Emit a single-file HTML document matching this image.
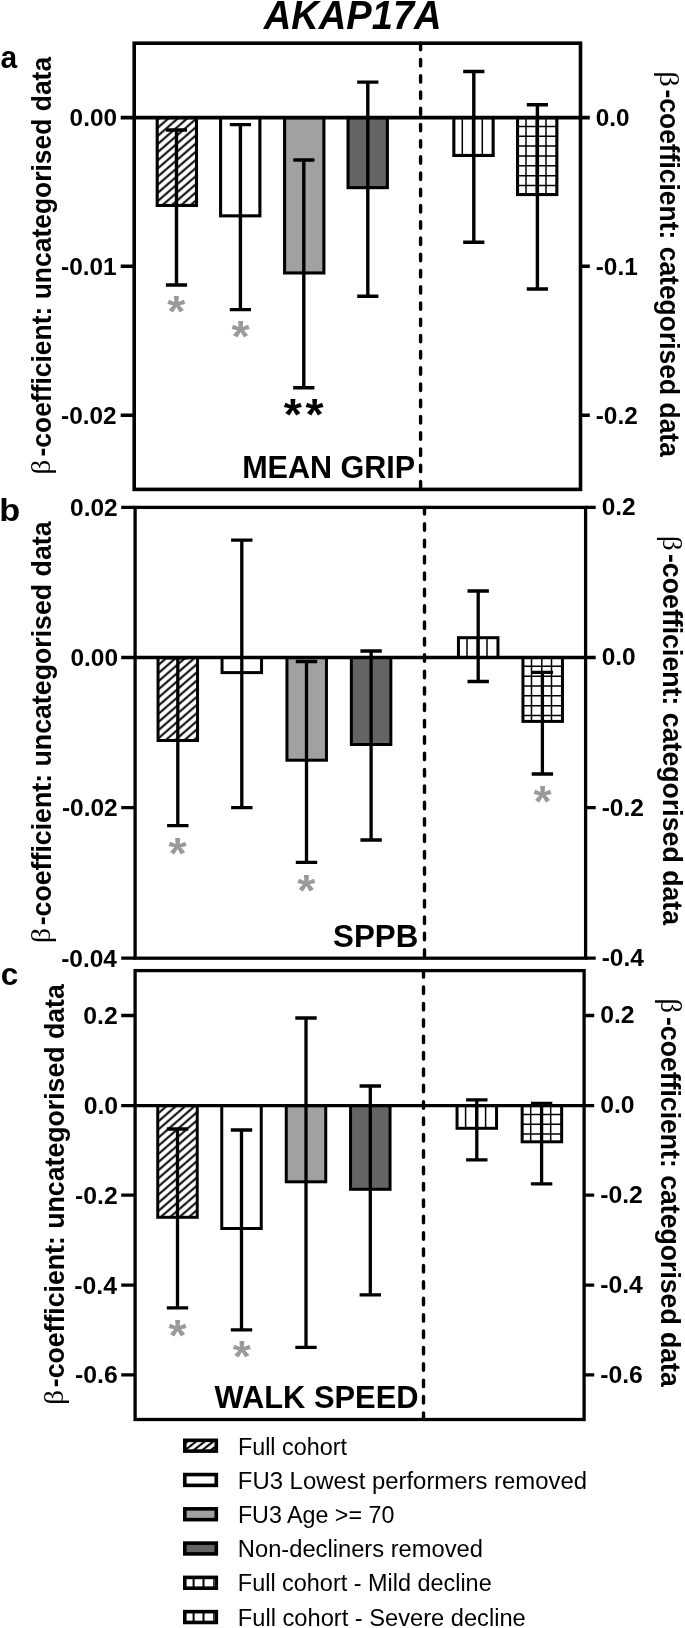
<!DOCTYPE html>
<html lang="en"><head><meta charset="utf-8"><title>AKAP17A</title>
<style>html,body{margin:0;padding:0;background:#fff}svg{display:block;will-change:transform}</style></head><body>
<svg width="685" height="1628" viewBox="0 0 685 1628">
<defs><pattern id="hatch" patternUnits="userSpaceOnUse" width="6.15" height="6.15" patternTransform="rotate(-41)"><rect width="6.15" height="6.15" fill="#fff"/><line x1="0" y1="3.1" x2="6.15" y2="3.1" stroke="#000" stroke-width="2"/></pattern><pattern id="hatch2" patternUnits="userSpaceOnUse" width="5.3" height="5.3" patternTransform="translate(186 0) rotate(-38)"><rect width="5.3" height="5.3" fill="#fff"/><line x1="0" y1="2.65" x2="5.3" y2="2.65" stroke="#000" stroke-width="2.1"/></pattern></defs>
<rect width="685" height="1628" fill="#fff"/>
<text transform="translate(263.79 28.5) scale(0.9431 1)" font-family="'Liberation Sans', Arial, Helvetica, sans-serif" font-size="40.39" font-weight="bold" font-style="italic">AKAP17A</text>
<rect x="157.2" y="117.6" width="39.3" height="87.85" fill="url(#hatch)" stroke="#000" stroke-width="3.1"/>
<rect x="220.6" y="117.6" width="39.3" height="98.25" fill="#fff" stroke="#000" stroke-width="3.1"/>
<rect x="284.6" y="117.6" width="39.3" height="155.35" fill="#a1a1a1" stroke="#000" stroke-width="3.1"/>
<rect x="348.05" y="117.6" width="39.3" height="70.05" fill="#646464" stroke="#000" stroke-width="3.1"/>
<rect x="453.85" y="117.6" width="39.3" height="37.85" fill="#fff" stroke="#000" stroke-width="3.1"/>
<path d="M462.3 117.6V155.45M472.6 117.6V155.45M482.3 117.6V155.45" fill="none" stroke="#000" stroke-width="1.5"/>
<rect x="517.55" y="117.6" width="39.3" height="76.95" fill="#fff" stroke="#000" stroke-width="3.1"/>
<path d="M526 117.6V194.55M536.3 117.6V194.55M546 117.6V194.55M517.55 126.4H556.85M517.55 136.25H556.85M517.55 146.1H556.85M517.55 155.95H556.85M517.55 165.8H556.85M517.55 175.65H556.85M517.55 185.5H556.85" fill="none" stroke="#000" stroke-width="1.5"/>
<rect x="134.2" y="43.2" width="446.3" height="446.2" fill="none" stroke="#000" stroke-width="3.6"/>
<line x1="420.6" y1="43.2" x2="420.6" y2="489.4" stroke="#000" stroke-width="3.4" stroke-linecap="round" stroke-dasharray="6.49 9.74"/>
<line x1="134.2" y1="117.6" x2="580.5" y2="117.6" stroke="#000" stroke-width="3.6"/>
<path d="M120.7 117.6H134.2M580.5 117.6H589.8M120.7 266.3H134.2M580.5 266.3H589.8M120.7 415.2H134.2M580.5 415.2H589.8" fill="none" stroke="#000" stroke-width="3.6"/>
<text transform="translate(69.6 125.97) scale(1.0000 1)" font-family="'Liberation Sans', Arial, Helvetica, sans-serif" font-size="24.35" font-weight="bold">0.00</text>
<text transform="translate(595.74 125.97) scale(1.0000 1)" font-family="'Liberation Sans', Arial, Helvetica, sans-serif" font-size="24.35" font-weight="bold">0.0</text>
<text transform="translate(61.11 274.67) scale(1.0000 1)" font-family="'Liberation Sans', Arial, Helvetica, sans-serif" font-size="24.35" font-weight="bold">-0.01</text>
<text transform="translate(595.74 274.67) scale(1.0000 1)" font-family="'Liberation Sans', Arial, Helvetica, sans-serif" font-size="24.35" font-weight="bold">-0.1</text>
<text transform="translate(61.11 423.57) scale(1.0000 1)" font-family="'Liberation Sans', Arial, Helvetica, sans-serif" font-size="24.35" font-weight="bold">-0.02</text>
<text transform="translate(595.74 423.57) scale(1.0000 1)" font-family="'Liberation Sans', Arial, Helvetica, sans-serif" font-size="24.35" font-weight="bold">-0.2</text>
<path d="M176.5 130V285M165.9 130H187.1M165.9 285H187.1" fill="none" stroke="#000" stroke-width="3.4"/>
<path d="M240.4 124.6V309.6M229.8 124.6H251M229.8 309.6H251" fill="none" stroke="#000" stroke-width="3.4"/>
<path d="M303.8 160V387.7M293.2 160H314.4M293.2 387.7H314.4" fill="none" stroke="#000" stroke-width="3.4"/>
<path d="M367.8 82.1V296.3M357.2 82.1H378.4M357.2 296.3H378.4" fill="none" stroke="#000" stroke-width="3.4"/>
<path d="M473.8 71.5V242.3M463.2 71.5H484.4M463.2 242.3H484.4" fill="none" stroke="#000" stroke-width="3.4"/>
<path d="M537.4 104.7V289M526.8 104.7H548M526.8 289H548" fill="none" stroke="#000" stroke-width="3.4"/>
<text transform="translate(167.2 327.13) scale(1.0643 1)" font-family="'Liberation Sans', Arial, Helvetica, sans-serif" font-size="43.78" font-weight="bold" fill="#9a9a9a">*</text>
<text transform="translate(231.4 351.63) scale(1.0643 1)" font-family="'Liberation Sans', Arial, Helvetica, sans-serif" font-size="43.78" font-weight="bold" fill="#9a9a9a">*</text>
<text transform="translate(283.75 429.63) scale(1.0643 1)" font-family="'Liberation Sans', Arial, Helvetica, sans-serif" font-size="43.78" font-weight="bold">*</text>
<text transform="translate(305.45 429.63) scale(1.0643 1)" font-family="'Liberation Sans', Arial, Helvetica, sans-serif" font-size="43.78" font-weight="bold">*</text>
<text transform="translate(51 456.53) scale(1.0348 1) rotate(-90)" font-family="'Liberation Sans', Arial, Helvetica, sans-serif" font-size="26.45" font-weight="bold">-coefficient: uncategorised data</text>
<text transform="translate(49.9 474.62) scale(0.9438 1) rotate(-90)" font-family="'Liberation Serif', 'DejaVu Serif', serif" font-size="29.05" font-weight="normal">β</text>
<text transform="translate(659.6 89.47) scale(1.0345 1) rotate(90)" font-family="'Liberation Sans', Arial, Helvetica, sans-serif" font-size="26.46" font-weight="bold">-coefficient: categorised data</text>
<text transform="translate(660.16 71.19) scale(0.9226 1) rotate(90)" font-family="'Liberation Serif', 'DejaVu Serif', serif" font-size="30.52" font-weight="normal">β</text>
<text transform="translate(0.53 68.3) scale(0.9320 1)" font-family="'Liberation Sans', Arial, Helvetica, sans-serif" font-size="32.18" font-weight="bold">a</text>
<text transform="translate(242.14 478.41) scale(0.9755 1)" font-family="'Liberation Sans', Arial, Helvetica, sans-serif" font-size="31.3" font-weight="bold">MEAN GRIP</text>
<rect x="158.05" y="657.5" width="39.5" height="83" fill="url(#hatch)" stroke="#000" stroke-width="3"/>
<rect x="222.05" y="657.5" width="39.5" height="15.1" fill="#fff" stroke="#000" stroke-width="3"/>
<rect x="286.95" y="657.5" width="39.5" height="102.7" fill="#a1a1a1" stroke="#000" stroke-width="3"/>
<rect x="351.35" y="657.5" width="39.5" height="87" fill="#646464" stroke="#000" stroke-width="3"/>
<rect x="458.45" y="637.7" width="39.5" height="19.8" fill="#fff" stroke="#000" stroke-width="3"/>
<path d="M467 637.7V657.5M477.3 637.7V657.5M487 637.7V657.5" fill="none" stroke="#000" stroke-width="1.5"/>
<rect x="522.95" y="657.5" width="39.5" height="63.9" fill="#fff" stroke="#000" stroke-width="3"/>
<path d="M531.5 657.5V721.4M541.8 657.5V721.4M551.5 657.5V721.4M522.95 666.3H562.45M522.95 676.15H562.45M522.95 686H562.45M522.95 695.85H562.45M522.95 705.7H562.45M522.95 715.55H562.45" fill="none" stroke="#000" stroke-width="1.5"/>
<rect x="135.1" y="507.4" width="450.5" height="450.8" fill="none" stroke="#000" stroke-width="3.3"/>
<line x1="424.5" y1="507.4" x2="424.5" y2="958.2" stroke="#000" stroke-width="3.4" stroke-linecap="round" stroke-dasharray="6.55 9.83"/>
<line x1="135.1" y1="657.5" x2="585.6" y2="657.5" stroke="#000" stroke-width="3.3"/>
<path d="M121.2 507.4H135.1M585.6 507.4H595.7M121.2 657.5H135.1M585.6 657.5H595.7M121.2 807.6H135.1M585.6 807.6H595.7M121.2 958.2H135.1M585.6 958.2H595.7" fill="none" stroke="#000" stroke-width="3.3"/>
<text transform="translate(70.05 516.02) scale(1.0000 1)" font-family="'Liberation Sans', Arial, Helvetica, sans-serif" font-size="24.49" font-weight="bold">0.02</text>
<text transform="translate(601.63 515.32) scale(1.0000 1)" font-family="'Liberation Sans', Arial, Helvetica, sans-serif" font-size="24.49" font-weight="bold">0.2</text>
<text transform="translate(70.43 666.12) scale(1.0000 1)" font-family="'Liberation Sans', Arial, Helvetica, sans-serif" font-size="24.49" font-weight="bold">0.00</text>
<text transform="translate(601.63 665.42) scale(1.0000 1)" font-family="'Liberation Sans', Arial, Helvetica, sans-serif" font-size="24.49" font-weight="bold">0.0</text>
<text transform="translate(61.9 816.22) scale(1.0000 1)" font-family="'Liberation Sans', Arial, Helvetica, sans-serif" font-size="24.49" font-weight="bold">-0.02</text>
<text transform="translate(601.63 815.52) scale(1.0000 1)" font-family="'Liberation Sans', Arial, Helvetica, sans-serif" font-size="24.49" font-weight="bold">-0.2</text>
<text transform="translate(61.13 966.82) scale(1.0000 1)" font-family="'Liberation Sans', Arial, Helvetica, sans-serif" font-size="24.49" font-weight="bold">-0.04</text>
<text transform="translate(601.63 966.12) scale(1.0000 1)" font-family="'Liberation Sans', Arial, Helvetica, sans-serif" font-size="24.49" font-weight="bold">-0.4</text>
<path d="M177.8 657.8V825.7M167.1 657.8H188.5M167.1 825.7H188.5" fill="none" stroke="#000" stroke-width="3.3"/>
<path d="M241.8 540.2V807.6M231.1 540.2H252.5M231.1 807.6H252.5" fill="none" stroke="#000" stroke-width="3.3"/>
<path d="M306.5 661.5V862.3M295.8 661.5H317.2M295.8 862.3H317.2" fill="none" stroke="#000" stroke-width="3.3"/>
<path d="M371.1 651V840M360.4 651H381.8M360.4 840H381.8" fill="none" stroke="#000" stroke-width="3.3"/>
<path d="M478.2 591V681.5M467.5 591H488.9M467.5 681.5H488.9" fill="none" stroke="#000" stroke-width="3.3"/>
<path d="M542.4 672.4V774M531.7 672.4H553.1M531.7 774H553.1" fill="none" stroke="#000" stroke-width="3.3"/>
<text transform="translate(168.4 869.23) scale(1.0643 1)" font-family="'Liberation Sans', Arial, Helvetica, sans-serif" font-size="43.78" font-weight="bold" fill="#9a9a9a">*</text>
<text transform="translate(297.2 905.73) scale(1.0643 1)" font-family="'Liberation Sans', Arial, Helvetica, sans-serif" font-size="43.78" font-weight="bold" fill="#9a9a9a">*</text>
<text transform="translate(533.4 817.23) scale(1.0643 1)" font-family="'Liberation Sans', Arial, Helvetica, sans-serif" font-size="43.78" font-weight="bold" fill="#9a9a9a">*</text>
<text transform="translate(50.8 925.34) scale(1.0289 1) rotate(-90)" font-family="'Liberation Sans', Arial, Helvetica, sans-serif" font-size="26.73" font-weight="bold">-coefficient: uncategorised data</text>
<text transform="translate(49.93 943.29) scale(0.9160 1) rotate(-90)" font-family="'Liberation Serif', 'DejaVu Serif', serif" font-size="30.28" font-weight="normal">β</text>
<text transform="translate(662.6 553.96) scale(1.0292 1) rotate(90)" font-family="'Liberation Sans', Arial, Helvetica, sans-serif" font-size="26.72" font-weight="bold">-coefficient: categorised data</text>
<text transform="translate(663.14 535.65) scale(0.9353 1) rotate(90)" font-family="'Liberation Serif', 'DejaVu Serif', serif" font-size="29.54" font-weight="normal">β</text>
<text transform="translate(-0.65 521.3) scale(1.0772 1)" font-family="'Liberation Sans', Arial, Helvetica, sans-serif" font-size="31.87" font-weight="bold">b</text>
<text transform="translate(333.11 946.9) scale(0.9786 1)" font-family="'Liberation Sans', Arial, Helvetica, sans-serif" font-size="32" font-weight="bold">SPPB</text>
<rect x="157.75" y="1105.6" width="39.5" height="111.7" fill="url(#hatch)" stroke="#000" stroke-width="3"/>
<rect x="221.75" y="1105.6" width="39.5" height="122.9" fill="#fff" stroke="#000" stroke-width="3"/>
<rect x="286.25" y="1105.6" width="39.5" height="76.2" fill="#a1a1a1" stroke="#000" stroke-width="3"/>
<rect x="350.55" y="1105.6" width="39.5" height="83.7" fill="#646464" stroke="#000" stroke-width="3"/>
<rect x="457.05" y="1105.6" width="39.5" height="22.7" fill="#fff" stroke="#000" stroke-width="3"/>
<path d="M465.6 1105.6V1128.3M475.9 1105.6V1128.3M485.6 1105.6V1128.3" fill="none" stroke="#000" stroke-width="1.5"/>
<rect x="522.15" y="1105.6" width="39.5" height="36.2" fill="#fff" stroke="#000" stroke-width="3"/>
<path d="M530.7 1105.6V1141.8M541 1105.6V1141.8M550.7 1105.6V1141.8M522.15 1114.4H561.65M522.15 1124.25H561.65M522.15 1134.1H561.65" fill="none" stroke="#000" stroke-width="1.5"/>
<rect x="135.1" y="970.6" width="449" height="448.9" fill="none" stroke="#000" stroke-width="3.3"/>
<line x1="423.5" y1="970.6" x2="423.5" y2="1419.5" stroke="#000" stroke-width="3.4" stroke-linecap="round" stroke-dasharray="6.55 9.83"/>
<line x1="135.1" y1="1105.6" x2="584.1" y2="1105.6" stroke="#000" stroke-width="3.3"/>
<path d="M121.2 1015.5H135.1M584.1 1015.5H594.2M121.2 1105.6H135.1M584.1 1105.6H594.2M121.2 1195.1H135.1M584.1 1195.1H594.2M121.2 1285.2H135.1M584.1 1285.2H594.2M121.2 1374.8H135.1M584.1 1374.8H594.2" fill="none" stroke="#000" stroke-width="3.3"/>
<text transform="translate(83.29 1024.11) scale(1.0000 1)" font-family="'Liberation Sans', Arial, Helvetica, sans-serif" font-size="24.77" font-weight="bold">0.2</text>
<text transform="translate(600.13 1023.21) scale(1.0000 1)" font-family="'Liberation Sans', Arial, Helvetica, sans-serif" font-size="24.77" font-weight="bold">0.2</text>
<text transform="translate(83.68 1114.21) scale(1.0000 1)" font-family="'Liberation Sans', Arial, Helvetica, sans-serif" font-size="24.77" font-weight="bold">0.0</text>
<text transform="translate(600.13 1113.31) scale(1.0000 1)" font-family="'Liberation Sans', Arial, Helvetica, sans-serif" font-size="24.77" font-weight="bold">0.0</text>
<text transform="translate(75.04 1203.71) scale(1.0000 1)" font-family="'Liberation Sans', Arial, Helvetica, sans-serif" font-size="24.77" font-weight="bold">-0.2</text>
<text transform="translate(600.13 1202.81) scale(1.0000 1)" font-family="'Liberation Sans', Arial, Helvetica, sans-serif" font-size="24.77" font-weight="bold">-0.2</text>
<text transform="translate(74.27 1293.81) scale(1.0000 1)" font-family="'Liberation Sans', Arial, Helvetica, sans-serif" font-size="24.77" font-weight="bold">-0.4</text>
<text transform="translate(600.13 1292.91) scale(1.0000 1)" font-family="'Liberation Sans', Arial, Helvetica, sans-serif" font-size="24.77" font-weight="bold">-0.4</text>
<text transform="translate(75.04 1383.41) scale(1.0000 1)" font-family="'Liberation Sans', Arial, Helvetica, sans-serif" font-size="24.77" font-weight="bold">-0.6</text>
<text transform="translate(600.13 1382.51) scale(1.0000 1)" font-family="'Liberation Sans', Arial, Helvetica, sans-serif" font-size="24.77" font-weight="bold">-0.6</text>
<path d="M177.5 1129V1307.8M166.8 1129H188.2M166.8 1307.8H188.2" fill="none" stroke="#000" stroke-width="3.3"/>
<path d="M241.5 1130V1329.8M230.8 1130H252.2M230.8 1329.8H252.2" fill="none" stroke="#000" stroke-width="3.3"/>
<path d="M306 1018V1347.3M295.3 1018H316.7M295.3 1347.3H316.7" fill="none" stroke="#000" stroke-width="3.3"/>
<path d="M370.3 1086V1294.8M359.6 1086H381M359.6 1294.8H381" fill="none" stroke="#000" stroke-width="3.3"/>
<path d="M476.8 1099.8V1159.8M466.1 1099.8H487.5M466.1 1159.8H487.5" fill="none" stroke="#000" stroke-width="3.3"/>
<path d="M541.6 1103.3V1183.9M530.9 1103.3H552.3M530.9 1183.9H552.3" fill="none" stroke="#000" stroke-width="3.3"/>
<text transform="translate(168.5 1351.23) scale(1.0643 1)" font-family="'Liberation Sans', Arial, Helvetica, sans-serif" font-size="43.78" font-weight="bold" fill="#9a9a9a">*</text>
<text transform="translate(232.8 1372.23) scale(1.0643 1)" font-family="'Liberation Sans', Arial, Helvetica, sans-serif" font-size="43.78" font-weight="bold" fill="#9a9a9a">*</text>
<text transform="translate(63.65 1387.23) scale(1.0286 1) rotate(-90)" font-family="'Liberation Sans', Arial, Helvetica, sans-serif" font-size="26.68" font-weight="bold">-coefficient: uncategorised data</text>
<text transform="translate(62.73 1404.7) scale(0.9630 1) rotate(-90)" font-family="'Liberation Serif', 'DejaVu Serif', serif" font-size="28.8" font-weight="normal">β</text>
<text transform="translate(660.8 1016.97) scale(1.0329 1) rotate(90)" font-family="'Liberation Sans', Arial, Helvetica, sans-serif" font-size="26.63" font-weight="bold">-coefficient: categorised data</text>
<text transform="translate(661.35 998.62) scale(1.0011 1) rotate(90)" font-family="'Liberation Serif', 'DejaVu Serif', serif" font-size="28.55" font-weight="normal">β</text>
<text transform="translate(0.77 984.6) scale(0.9789 1)" font-family="'Liberation Sans', Arial, Helvetica, sans-serif" font-size="32.18" font-weight="bold">c</text>
<text transform="translate(214.5 1408.11) scale(0.9773 1)" font-family="'Liberation Sans', Arial, Helvetica, sans-serif" font-size="31.58" font-weight="bold">WALK SPEED</text>
<rect x="184.8" y="1440.3" width="31.5" height="10.8" fill="url(#hatch2)" stroke="#000" stroke-width="3.6"/>
<text transform="translate(237.88 1454.5) scale(0.9661 1)" font-family="'Liberation Sans', Arial, Helvetica, sans-serif" font-size="24.18" font-weight="normal">Full cohort</text>
<rect x="184.8" y="1474.57" width="31.5" height="10.8" fill="#fff" stroke="#000" stroke-width="3.6"/>
<text transform="translate(237.83 1488.7) scale(0.9885 1)" font-family="'Liberation Sans', Arial, Helvetica, sans-serif" font-size="24.18" font-weight="normal">FU3 Lowest performers removed</text>
<rect x="184.8" y="1508.84" width="31.5" height="10.8" fill="#a1a1a1" stroke="#000" stroke-width="3.6"/>
<text transform="translate(237.88 1522.9) scale(0.9623 1)" font-family="'Liberation Sans', Arial, Helvetica, sans-serif" font-size="24.18" font-weight="normal">FU3 Age &gt;= 70</text>
<rect x="184.8" y="1543.11" width="31.5" height="10.8" fill="#646464" stroke="#000" stroke-width="3.6"/>
<text transform="translate(237.85 1557.1) scale(0.9809 1)" font-family="'Liberation Sans', Arial, Helvetica, sans-serif" font-size="24.18" font-weight="normal">Non-decliners removed</text>
<rect x="184.8" y="1577.38" width="31.5" height="10.8" fill="#fff" stroke="#000" stroke-width="3.6"/>
<path d="M193.6 1577.38V1588.18M203.5 1577.38V1588.18" fill="none" stroke="#000" stroke-width="2"/>
<path d="M213.8 1577.38V1588.18" fill="none" stroke="#000" stroke-width="1.2"/>
<text transform="translate(237.87 1591.3) scale(0.9689 1)" font-family="'Liberation Sans', Arial, Helvetica, sans-serif" font-size="24.18" font-weight="normal">Full cohort - Mild decline</text>
<rect x="184.8" y="1611.65" width="31.5" height="10.8" fill="#fff" stroke="#000" stroke-width="3.6"/>
<path d="M193.6 1611.65V1622.45M203.5 1611.65V1622.45" fill="none" stroke="#000" stroke-width="2"/>
<path d="M213.8 1611.65V1622.45" fill="none" stroke="#000" stroke-width="1.2"/>
<text transform="translate(237.85 1625.5) scale(0.9790 1)" font-family="'Liberation Sans', Arial, Helvetica, sans-serif" font-size="24.18" font-weight="normal">Full cohort - Severe decline</text>
</svg></body></html>
